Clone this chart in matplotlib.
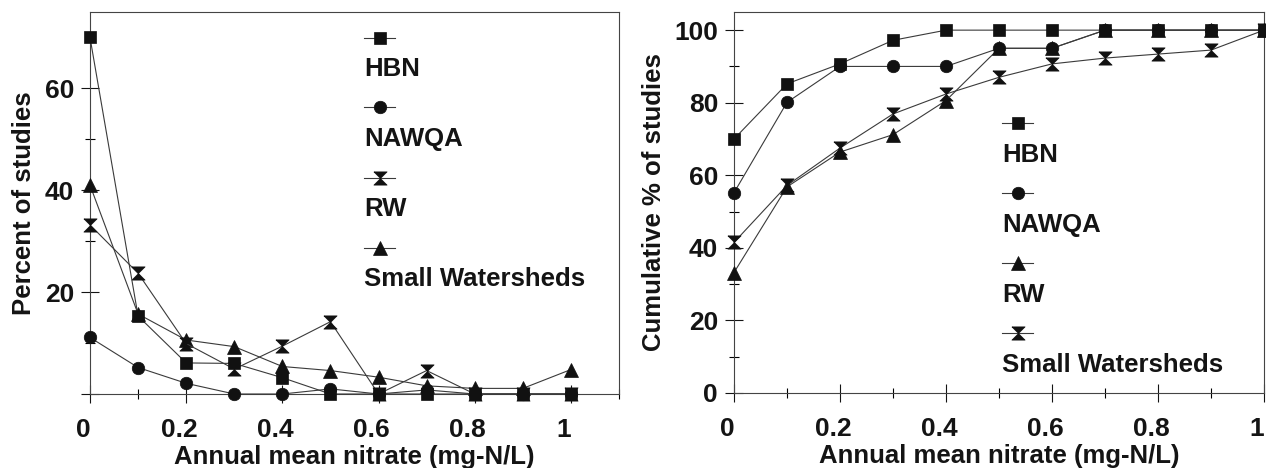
import matplotlib
matplotlib.use("Agg")
import matplotlib.pyplot as plt
import matplotlib.transforms as mtransforms
from matplotlib.lines import Line2D
from matplotlib.ticker import FormatStrFormatter, MultipleLocator

plt.rcParams["font.family"] = ["Liberation Sans", "DejaVu Sans"]
plt.rcParams["font.weight"] = "bold"

# nitrate classes (mg-N/L)
nitrate = [0.0, 0.1, 0.2, 0.3, 0.4, 0.5, 0.6, 0.7, 0.8, 0.9, 1.0]

# left panel: percent of studies per class
pct_hbn = [70.0, 15.3, 6.1, 6.0, 3.2, 0.0, 0.0, 0.0, 0.0, 0.0, 0.0]
pct_nawqa = [11.1, 5.2, 2.1, 0.0, 0.0, 1.0, 0.0, 0.8, 0.0, 0.0, 0.0]
pct_rw = [33.2, 23.7, 9.9, 4.9, 9.4, 14.2, 0.0, 4.6, 0.0, 0.0, 0.0]
pct_small = [41.0, 15.7, 10.6, 9.3, 5.4, 4.6, 3.3, 1.6, 1.1, 1.1, 4.8]

# right panel: cumulative percent of studies
cum_hbn = [70.0, 85.2, 90.7, 97.2, 100, 100, 100, 100, 100, 100, 100]
cum_nawqa = [55.2, 80.1, 90.0, 90.0, 90.0, 95.0, 95.0, 100, 100, 100, 100]
cum_rw = [33.2, 56.8, 66.4, 71.2, 80.6, 95.0, 95.0, 100, 100, 100, 100]
cum_small = [41.5, 57.2, 67.5, 76.9, 82.4, 87.0, 90.7, 92.3, 93.4, 94.5, 100]

series_labels = ["HBN", "NAWQA", "RW", "Small Watersheds"]

HOURGLASS = [(-1, 1), (1, 1), (0, 0), (1, -1), (-1, -1), (0, 0), (-1, 1)]
LINE_C = "#3a3a3a"
MARK_C = "#111111"
TEXT_C = "#141414"
FS = 18.5
TICK_FS = 19
MS_SQ = 9
MS_TRI = 9.5

fig = plt.figure(figsize=(12.66, 4.68), dpi=100)
ax1 = fig.add_axes([90 / 1266, 1 - 394 / 468, 529 / 1266, 382 / 468])
ax2 = fig.add_axes([734 / 1266, 1 - 393 / 468, 530 / 1266, 381 / 468])


def draw(ax, xs, ys, marker, ms):
    ax.plot(xs, ys, color=LINE_C, lw=0.8, marker=marker, ms=ms,
            mfc=MARK_C, mec=MARK_C, mew=0.5, clip_on=False, zorder=3)


def fake_legend(ax, entries, x0, x1, marker_ys, label_ys):
    for (lab, marker, ms), ym, yl in zip(entries, marker_ys, label_ys):
        ax.add_line(Line2D([x0, x1], [ym, ym], color=LINE_C, lw=0.8,
                           transform=ax.transAxes))
        ax.add_line(Line2D([(x0 + x1) / 2], [ym], marker=marker, ms=ms,
                           mfc=MARK_C, mec=MARK_C, mew=0.5, lw=0,
                           transform=ax.transAxes))
        ax.text(x0, yl, lab, transform=ax.transAxes, fontsize=FS,
                fontweight="bold", color=TEXT_C, ha="left", va="center")


def style(ax, xmax, ymax, ylabel):
    ax.set_xlim(0, xmax)
    ax.set_ylim(0, ymax)
    ax.xaxis.set_major_locator(MultipleLocator(0.2))
    ax.xaxis.set_minor_locator(MultipleLocator(0.1))
    ax.xaxis.set_major_formatter(FormatStrFormatter("%g"))
    ax.yaxis.set_major_locator(MultipleLocator(20))
    ax.yaxis.set_minor_locator(MultipleLocator(10))
    ax.tick_params(which="major", direction="inout", length=13, width=0.8,
                   labelsize=TICK_FS, colors=TEXT_C, pad=5)
    ax.tick_params(which="minor", direction="inout", length=7, width=0.8)
    ax.tick_params(axis="x", which="major", pad=11)
    for s in ax.spines.values():
        s.set_linewidth(0.8)
        s.set_color("#444444")
    ax.set_xlabel("Annual mean nitrate (mg-N/L)", fontsize=FS,
                  fontweight="bold", color=TEXT_C, labelpad=2)
    ax.set_ylabel(ylabel, fontsize=FS, fontweight="bold", color=TEXT_C,
                  labelpad=6)
    shift = mtransforms.ScaledTranslation(-7 / 100, 0, fig.dpi_scale_trans)
    for lab in ax.get_xticklabels():
        lab.set_transform(lab.get_transform() + shift)
        lab.set_fontweight("bold")
    for lab in ax.get_yticklabels():
        lab.set_fontweight("bold")


# left panel
draw(ax1, nitrate, pct_small, "^", MS_TRI)
draw(ax1, nitrate, pct_rw, HOURGLASS, MS_TRI)
draw(ax1, nitrate, pct_nawqa, "o", MS_SQ)
draw(ax1, nitrate, pct_hbn, "s", MS_SQ)
style(ax1, 1.1, 75, "Percent of studies")
ax1.set_yticks([0, 20, 40, 60])
ax1.set_yticklabels(["", "20", "40", "60"], fontweight="bold")
fake_legend(ax1,
            [(series_labels[0], "s", MS_SQ), (series_labels[1], "o", MS_SQ),
             (series_labels[2], HOURGLASS, MS_TRI),
             (series_labels[3], "^", MS_TRI)],
            0.518, 0.577,
            [0.933, 0.751, 0.565, 0.382],
            [0.851, 0.668, 0.484, 0.301])

# right panel
draw(ax2, nitrate, cum_small, HOURGLASS, MS_TRI)
draw(ax2, nitrate, cum_rw, "^", MS_TRI)
draw(ax2, nitrate, cum_nawqa, "o", MS_SQ)
draw(ax2, nitrate, cum_hbn, "s", MS_SQ)
style(ax2, 1.0, 105, "Cumulative % of studies")
ax2.set_yticks([0, 20, 40, 60, 80, 100])
fake_legend(ax2,
            [(series_labels[0], "s", MS_SQ), (series_labels[1], "o", MS_SQ),
             (series_labels[2], "^", MS_TRI),
             (series_labels[3], HOURGLASS, MS_TRI)],
            0.506, 0.564,
            [0.709, 0.526, 0.341, 0.157],
            [0.625, 0.441, 0.257, 0.073])

fig.savefig("out.png", dpi=100)
